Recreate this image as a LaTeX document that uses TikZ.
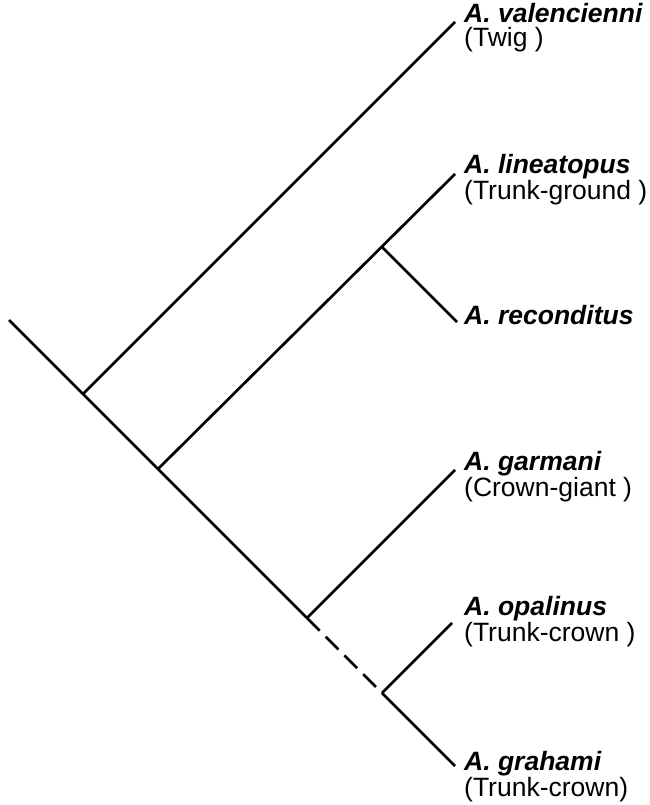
\documentclass[tikz,border=0pt]{standalone}
\usepackage{fontspec}
\setmainfont{Liberation Sans}
\usetikzlibrary{positioning, calc}
\newcommand{\spname}[1]{\textbf{\textit{#1}}}
\tikzset{
  branch/.style={line width=2.7pt},
  gap/.style={branch, dash pattern=on 18pt off 8.5pt},
  taxon/.style={anchor=base west, inner sep=0pt, align=left, font=\fontsize{26.5}{24}\selectfont},
}

\begin{document}
\begin{tikzpicture}[x=1pt, y=-1pt]
\useasboundingbox (0,0) rectangle (649,805);

% internal nodes on the main stem
\coordinate (root) at (9,320);
\coordinate (n1) at (83,394);
\coordinate (n2) at (158,469);
\coordinate (n3) at (382,247);
\coordinate (n4) at (307,618);
\coordinate (n5) at (382,693);

% tips
\coordinate (tvale) at (455,22);
\coordinate (tline) at (455,174);
\coordinate (treco) at (457,322);
\coordinate (tgarm) at (455,470);
\coordinate (topal) at (452,623);
\coordinate (tgrah) at (455,766);

% stem
\draw[branch] (root) -- (n4);
\draw[gap] (n4) -- (n5);
\draw[branch] (n5) -- (tgrah);

% branches
\draw[branch] (n1) -- (tvale);
\draw[branch] (n2) -- (tline);
\draw[branch] (n3) -- (treco);
\draw[branch] (n4) -- (tgarm);
\draw[branch] (n5) -- (topal);

% labels (base = last line)
\node[taxon] (vale) at (464,47) {\spname{A. valencienni}\\(Twig )};
\node[taxon] (line) at (464,199) {\spname{A. lineatopus}\\(Trunk-ground )};
\node[taxon] (reco) at (464,324) {\spname{A. reconditus}};
\node[taxon] (garm) at (464,496) {\spname{A. garmani}\\(Crown-giant )};
\node[taxon] (opal) at (464,641) {\spname{A. opalinus}\\(Trunk-crown )};
\node[taxon] (grah) at (464,796) {\spname{A. grahami}\\(Trunk-crown)};
\end{tikzpicture}
\end{document}
